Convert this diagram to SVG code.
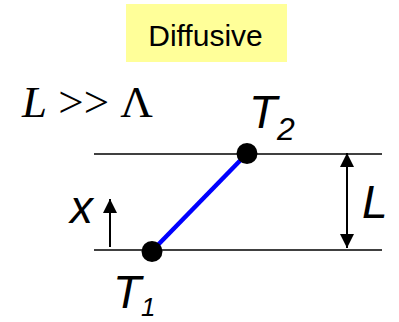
<svg xmlns="http://www.w3.org/2000/svg" width="399" height="322" viewBox="0 0 399 322">
<style>
.rule{stroke:#000;stroke-width:1.5;fill:none}
.sans{font-family:"Liberation Sans",Arial,sans-serif;fill:#000}
.it{font-style:italic}
.dot{fill:#000}
</style>
<defs>
<marker id="ah" markerWidth="14" markerHeight="15" refX="14" refY="7" orient="auto" markerUnits="userSpaceOnUse">
<path d="M0,0 L14,7 L0,14 Z" fill="#000"/>
</marker>
</defs>
<g id="title">
<rect x="126" y="4" width="161" height="58" fill="#FFFF99"/>
<text class="sans" x="205.5" y="45.5" font-size="30" text-anchor="middle">Diffusive</text>
</g>
<g id="condition">
<text x="22" y="117" font-family="'Liberation Serif','Times New Roman',serif" font-size="45"><tspan font-style="italic">L</tspan> &gt;&gt; Λ</text>
</g>
<g id="connectors">
<line class="rule" x1="94" y1="154" x2="382" y2="154"/>
<line class="rule" x1="94" y1="250" x2="382" y2="250"/>
<line x1="152" y1="251" x2="247" y2="153.5" stroke="#0000FF" stroke-width="4.5"/>
<line x1="347" y1="200" x2="347" y2="153" stroke="#000" stroke-width="2" marker-end="url(#ah)"/>
<line x1="347" y1="200" x2="347" y2="248" stroke="#000" stroke-width="2" marker-end="url(#ah)"/>
<line x1="110" y1="247" x2="110" y2="199" stroke="#000" stroke-width="2" marker-end="url(#ah)"/>
</g>
<g id="T2">
<circle class="dot" cx="247" cy="153.5" r="10.5"/>
<text class="sans it" x="249" y="128" font-size="46">T<tspan font-size="32" dy="12">2</tspan></text>
</g>
<g id="T1">
<circle class="dot" cx="152" cy="251.5" r="10.5"/>
<text class="sans it" x="113" y="308" font-size="46">T<tspan font-size="26" dy="8">1</tspan></text>
</g>
<g id="labels">
<text class="sans it" x="70" y="222.5" font-size="46">x</text>
<text class="sans it" x="362" y="218" font-size="46">L</text>
</g>
</svg>
